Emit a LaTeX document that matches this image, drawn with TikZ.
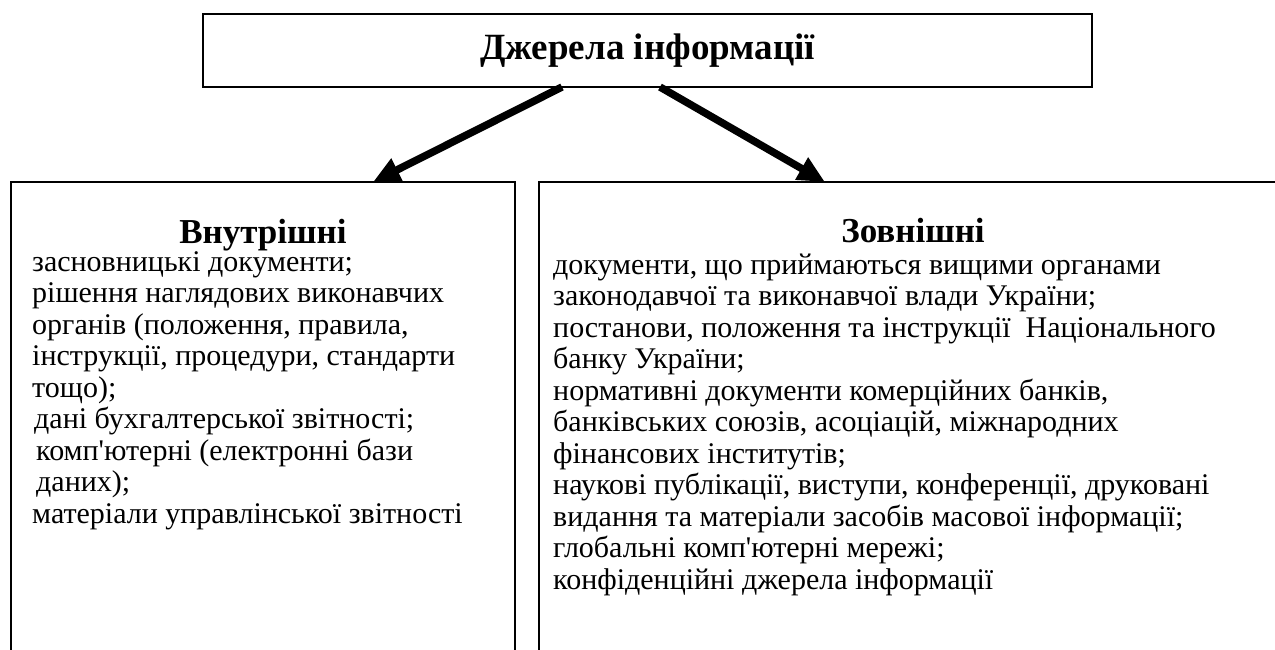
\documentclass[tikz,border=0pt]{standalone}
\usepackage{fontspec}
\setmainfont{Liberation Serif}[Ligatures=TeXOff]
\usetikzlibrary{arrows.meta,calc}

% lines of a list, left aligned, baseline at the first line
\newcommand{\stackedlines}[1]{\vtop{\halign{##\hfil\cr#1\crcr}}}

\begin{document}
\begin{tikzpicture}[x=1pt,y=-1pt,
  frame/.style={draw, line width=1.5pt, inner sep=0pt, outer sep=0pt},
  flow/.style={line width=7.5pt, -{Triangle[length=27pt,width=24pt]}},
  heading/.style={anchor=base, inner sep=0pt, font=\bfseries\fontsize{35}{40}\selectfont},
  listtext/.style={anchor=base west, inner sep=0pt, font=\fontsize{30}{31.5}\selectfont},
  ]
\useasboundingbox (0,0) rectangle (1275,649);
\clip (0,0) rectangle (1275,649);

% top box
\node[frame, line width=2pt, minimum width=889pt, minimum height=73pt] (src) at (647.5,50.5) {};
\node[inner sep=0pt, font=\bfseries\fontsize{37}{40}\selectfont] (srctitle) at (src) {Джерела інформації};

% the two lower boxes run past the page edges
\node[frame, minimum width=504pt, minimum height=500pt] (inner) at (263,432) {};
\node[frame, minimum width=751pt, minimum height=500pt] (outer) at (914.5,432) {};

% arrows
\draw[flow] ([xshift=-85.5pt]src.south) -- ([xshift=110pt]inner.north);
\draw[flow] ([xshift=12.5pt]src.south) -- ([xshift=-89.5pt]outer.north);

% left column
\node[heading] (innerhead) at (263,243) {Внутрішні};
\node[listtext] (innerlist) at (32,271) {\stackedlines{%
засновницькі документи;\cr
рішення наглядових виконавчих\cr
органів (положення, правила,\cr
інструкції, процедури, стандарти\cr
тощо);\cr
\hspace{2pt}дані бухгалтерської звітності;\cr
\hspace{4pt}комп'ютерні (електронні бази\cr
\hspace{4pt}даних);\cr
матеріали управлінської звітності}};

% right column
\node[heading] (outerhead) at (913,242) {Зовнішні};
\node[listtext] (outerlist) at (553,274) {\stackedlines{%
документи, що приймаються вищими органами\cr
законодавчої та виконавчої влади України;\cr
постанови, положення та інструкції\ \ Національного\cr
банку України;\cr
нормативні документи комерційних банків,\cr
банківських союзів, асоціацій, міжнародних\cr
фінансових інститутів;\cr
наукові публікації, виступи, конференції, друковані\cr
видання та матеріали засобів масової інформації;\cr
глобальні комп'ютерні мережі;\cr
конфіденційні джерела інформації}};
\end{tikzpicture}
\end{document}
